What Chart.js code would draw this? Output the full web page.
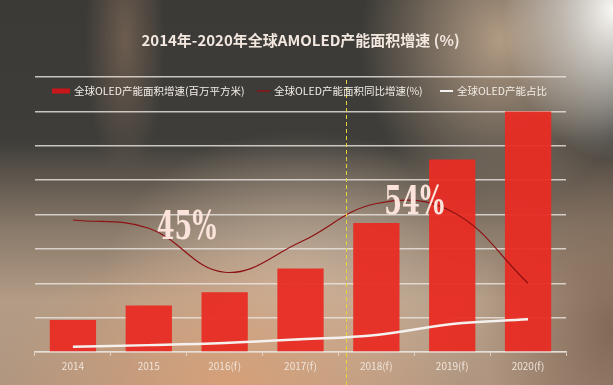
<!DOCTYPE html>
<html>
<head>
<meta charset="utf-8">
<script src="https://cdn.jsdelivr.net/npm/chart.js@4"></script>
<style>
  body { margin: 0; }
  #wrap {
    width: 613px;
    height: 385px;
    position: relative;
    background:
      radial-gradient(ellipse 110px 150px at 613px 10px, rgba(250,248,244,1), rgba(250,248,244,0)),
      radial-gradient(ellipse 140px 170px at 500px 40px, rgba(190,165,140,0.9), rgba(190,165,140,0)),
      radial-gradient(ellipse 230px 150px at 230px 385px, rgba(215,160,120,0.95), rgba(215,160,120,0)),
      radial-gradient(ellipse 200px 160px at 300px 290px, rgba(205,185,165,0.8), rgba(205,185,165,0)),
      radial-gradient(ellipse 40px 140px at 125px 40px, rgba(120,100,85,0.8), rgba(120,100,85,0)),
      radial-gradient(ellipse 130px 200px at 613px 330px, rgba(125,100,82,0.9), rgba(125,100,82,0)),
      linear-gradient(to bottom, #3b3a36 0px, #3e3d39 140px, #8a7a6a 230px, #b39c86 300px, #b09680 385px);
  }
</style>
</head>
<body>
<div id="wrap"><canvas id="chart"></canvas></div>
<script>
// Chart values
const categories = ['2014', '2015', '2016(f)', '2017(f)', '2018(f)', '2019(f)', '2020(f)'];
const areaValues = [9.3, 13.5, 17.4, 24.3, 37.5, 56, 70];     // 百万平方米
const yoyGrowth = [48, 45, 29, 40, 54, 51, 25];                // %
const oledShare = [1.9, 2.5, 3.3, 4.6, 6.2, 10.2, 11.9];       // %
const seriesLabels = ['全球OLED产能面积增速(百万平方米)', '全球OLED产能面积同比增速(%)', '全球OLED产能占比'];
const callouts = [45, 54];        // highlighted growth rates
const calloutIndex = [1, 4];      // category they follow
const forecastSplit = 3.6;        // where the dashed yellow divider sits

const font = '"Noto Sans CJK SC", "Noto Sans", sans-serif';

// Legend drawn inside the plot, plus the big callouts and the yellow divider
const overlayPlugin = {
  id: 'overlay',
  afterDatasetsDraw(chart) {
    const ctx = chart.ctx;
    const x = chart.scales.x;
    const y1 = chart.scales.y1;

    // yellow dashed divider
    ctx.save();
    const dx = Math.round(x.getPixelForValue(forecastSplit)) + 0.5;
    ctx.strokeStyle = '#e6d53a';
    ctx.lineWidth = 1;
    ctx.setLineDash([4, 3]);
    ctx.beginPath();
    ctx.moveTo(dx, chart.chartArea.top + 3);
    ctx.lineTo(dx, chart.height);
    ctx.stroke();
    ctx.restore();

    // callouts
    ctx.save();
    ctx.font = 'bold 40px "DejaVu Serif", "Liberation Serif", serif';
    ctx.fillStyle = '#fbe3dc';
    ctx.textAlign = 'center';
    ctx.textBaseline = 'middle';
    callouts.forEach((v, i) => {
      const px = x.getPixelForValue(calloutIndex[i] + 0.5);
      const py = y1.getPixelForValue(v);
      ctx.save();
      ctx.translate(px, py);
      ctx.scale(0.64, 1);
      ctx.fillText(v + '%', 0, 0);
      ctx.restore();
    });
    ctx.restore();

    // legend
    ctx.save();
    ctx.font = '10.5px ' + font;
    ctx.textBaseline = 'middle';
    const ly = 91;
    const starts = [52, 257, 440];
    chart.data.datasets.forEach((ds, i) => {
      let lx = starts[i];
      if (i === 0) {
        ctx.fillStyle = '#c8161a';
        ctx.fillRect(lx, ly - 2.5, 18, 5);
        lx += 22;
      } else {
        ctx.strokeStyle = i === 1 ? '#8e1214' : '#f5f1ee';
        ctx.lineWidth = i === 1 ? 1.5 : 2;
        ctx.beginPath();
        ctx.moveTo(lx, ly);
        ctx.lineTo(lx + 13, ly);
        ctx.stroke();
        lx += 17;
      }
      ctx.fillStyle = '#f3ede7';
      ctx.fillText(ds.label, lx, ly);
    });
    ctx.restore();
  }
};

new Chart(document.getElementById('chart'), {
  type: 'bar',
  data: {
    labels: categories,
    datasets: [
      {
        label: seriesLabels[0],
        data: areaValues,
        backgroundColor: 'rgba(232, 44, 36, 0.95)',
        barPercentage: 0.61,
        categoryPercentage: 1,
        yAxisID: 'y',
        order: 3
      },
      {
        type: 'line',
        label: seriesLabels[1],
        data: yoyGrowth,
        borderColor: '#8e1214',
        borderWidth: 1.2,
        pointRadius: 0,
        tension: 0.4,
        fill: false,
        yAxisID: 'y1',
        order: 2
      },
      {
        type: 'line',
        label: seriesLabels[2],
        data: oledShare,
        borderColor: '#f5f1ee',
        borderWidth: 2.5,
        pointRadius: 0,
        tension: 0.4,
        fill: false,
        yAxisID: 'y1',
        order: 1
      }
    ]
  },
  options: {
    responsive: true,
    maintainAspectRatio: false,
    animation: false,
    layout: { padding: { left: 35, right: 47, top: 0, bottom: 9 } },
    plugins: {
      legend: { display: false },
      tooltip: { enabled: false },
      title: {
        display: true,
        text: '2014年-2020年全球AMOLED产能面积增速 (%)',
        color: '#f3e8df',
        font: { family: font, size: 15, weight: 'bold' },
        padding: { top: 31, bottom: 28 }
      }
    },
    scales: {
      x: {
        grid: { drawOnChartArea: false, drawTicks: true, tickLength: 4, color: 'rgba(230,224,218,0.8)' },
        border: { color: 'rgba(230,224,218,0.85)', width: 1.5 },
        ticks: { color: '#efe4da', font: { family: font, size: 10 }, padding: 4 }
      },
      y: {
        min: 0,
        max: 80,
        ticks: { display: false, stepSize: 10 },
        grid: { color: 'rgba(235,230,225,0.8)', lineWidth: 1.5, drawTicks: false },
        border: { display: false }
      },
      y1: {
        display: false,
        min: 0,
        max: 100,
        position: 'right'
      }
    }
  },
  plugins: [overlayPlugin]
});
</script>
</body>
</html>
